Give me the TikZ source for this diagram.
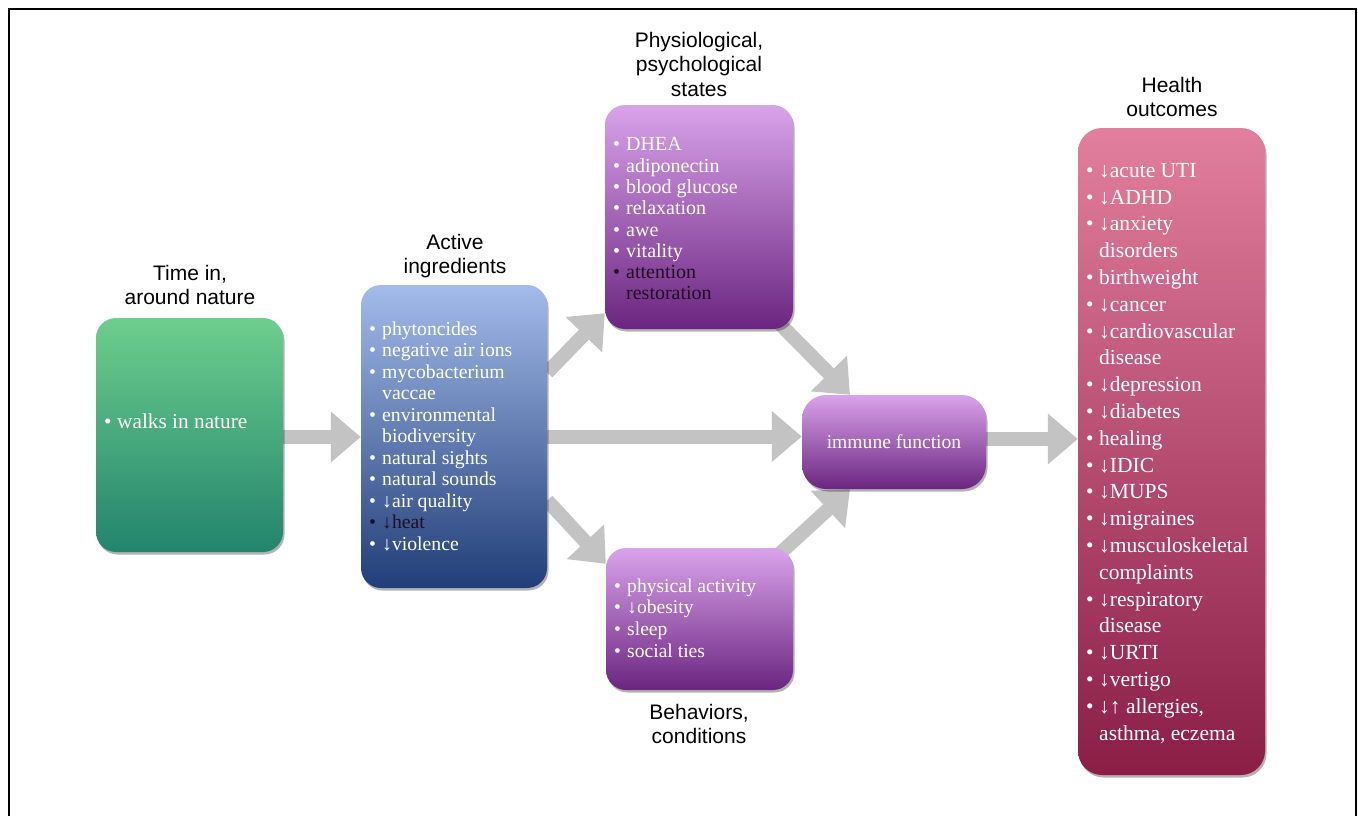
\documentclass[tikz,border=0pt]{standalone}
\usepackage{fontspec}
\setmainfont{Liberation Serif}
\newfontfamily\titlefont{Liberation Sans}
\usetikzlibrary{arrows.meta,shadows,backgrounds}
\definecolor{greenTop}{HTML}{6DCE8E}
\definecolor{greenBot}{HTML}{22846C}
\definecolor{blueTop}{HTML}{A3BBEA}
\definecolor{blueBot}{HTML}{223E78}
\definecolor{purpTop}{HTML}{D9A3EA}
\definecolor{purpBot}{HTML}{6B2580}
\definecolor{pinkTop}{HTML}{E27E9E}
\definecolor{pinkBot}{HTML}{8A1E45}
\definecolor{arrowgray}{HTML}{C3C3C3}
\definecolor{darktext}{HTML}{1E0F22}
\newcommand\bul{\makebox[13pt][l]{•}}
\newcommand\cont{\hspace*{13pt}}
\newcommand\fs{\rule{0pt}{15pt}}
\newcommand\ts{\rule{0pt}{16pt}}
\begin{document}
\begin{tikzpicture}[x=1pt,y=-1pt,
  box/.style={rounded corners=20pt, inner sep=0pt, draw=none,
    drop shadow={shadow xshift=1.5pt, shadow yshift=-2.5pt, opacity=0.3, fill=black}},
  greenbox/.style={box, top color=greenTop, bottom color=greenBot},
  bluebox/.style={box, top color=blueTop, bottom color=blueBot},
  purpbox/.style={box, top color=purpTop, bottom color=purpBot},
  pinkbox/.style={box, rounded corners=24pt, top color=pinkTop, bottom color=pinkBot},
  title/.style={font=\titlefont\fontsize{21}{24.5}\selectfont, align=center, inner sep=0pt, anchor=north, text=black},
  listtxt/.style={align=left, inner sep=0pt, anchor=north west, text=white},
  flow/.style={line width=14pt, draw=arrowgray, -{Triangle[width=49pt,length=30pt]}}
]
\useasboundingbox (0,0) rectangle (1358,816);
\draw[line width=2pt] (9,816) -- (9,9) -- (1356,9) -- (1356,816);

% boxes
\node[greenbox, minimum width=187pt, minimum height=234pt] (green) at (189.5,435) {};
\node[bluebox, minimum width=186pt, minimum height=303pt] (blue) at (454,436.5) {};
\node[purpbox, minimum width=188pt, minimum height=224pt] (top) at (699,217) {};
\node[purpbox, minimum width=187pt, minimum height=142pt] (bot) at (699.5,619) {};
\node[purpbox, rounded corners=24pt, minimum width=184pt, minimum height=94pt, text=white,
  font=\fontsize{19.6}{22}\selectfont] (immune) at (894,442) {immune function};
\node[pinkbox, minimum width=187pt, minimum height=647pt] (health) at (1171.5,451.5) {};

% titles
\node[title] (tgreen) at (190,264) {\ts Time in,\\around nature};
\node[title] (tblue) at (455,233) {\ts Active\\ingredients};
\node[title] (ttop) at (699,31) {\ts Physiological,\\psychological\\states};
\node[title] (tbot) at (699,703) {\ts Behaviors,\\conditions};
\node[title] (thealth) at (1172,76) {\ts Health\\outcomes};

% lists
\node[listtxt, font=\fontsize{21.3}{22}\selectfont] (lgreen) at (104,413) {\fs\bul walks in nature};
\node[listtxt, font=\fontsize{19.7}{21.5}\selectfont] (lblue) at (369,320) {\fs\bul phytoncides\\
\bul negative air ions\\
\bul mycobacterium\\
\cont vaccae\\
\bul environmental\\
\cont biodiversity\\
\bul natural sights\\
\bul natural sounds\\
\bul ↓air quality\\
{\color{darktext}\bul ↓heat}\\
\bul ↓violence};
\node[listtxt, font=\fontsize{20}{21.3}\selectfont] (ltop) at (613,135.6) {\fs\bul DHEA\\
\bul adiponectin\\
\bul blood glucose\\
\bul relaxation\\
\bul awe\\
\bul vitality\\
{\color{darktext}\bul attention}\\
{\color{darktext}\cont restoration}};
\node[listtxt, font=\fontsize{19.6}{21.7}\selectfont] (lbot) at (614,577) {\fs\bul physical activity\\
\bul ↓obesity\\
\bul sleep\\
\bul social ties};
\node[listtxt, font=\fontsize{21.5}{26.8}\selectfont] (lhealth) at (1086,162) {\fs\bul ↓acute UTI\\
\bul ↓ADHD\\
\bul ↓anxiety\\
\cont disorders\\
\bul birthweight\\
\bul ↓cancer\\
\bul ↓cardiovascular\\
\cont disease\\
\bul ↓depression\\
\bul ↓diabetes\\
\bul healing\\
\bul ↓IDIC\\
\bul ↓MUPS\\
\bul ↓migraines\\
\bul ↓musculoskeletal\\
\cont complaints\\
\bul ↓respiratory\\
\cont disease\\
\bul ↓URTI\\
\bul ↓vertigo\\
\bul ↓↑ allergies,\\
\cont asthma, eczema};

% connectors
\begin{scope}[on background layer]
\draw[flow] ([yshift=-2pt]green.east) -- ([yshift=-2pt]green.east -| blue.west);
\draw[flow] (blue.east) -- (blue.east -| immune.west);
\draw[flow] ([yshift=3pt]immune.east) -- ([yshift=3pt]immune.east -| health.west);
\draw[flow] ([yshift=64pt]blue.east) -- ([yshift=16pt]top.south west);
\draw[flow] ([yshift=-64pt]blue.east) -- ([yshift=-16pt]bot.north west);
\draw[flow] ([xshift=-18pt,yshift=10pt]top.south east) -- ([xshift=-44pt]immune.north);
\draw[flow] ([xshift=-18pt,yshift=-10pt]bot.north east) -- ([xshift=-44pt]immune.south);
\end{scope}
\end{tikzpicture}
\end{document}
